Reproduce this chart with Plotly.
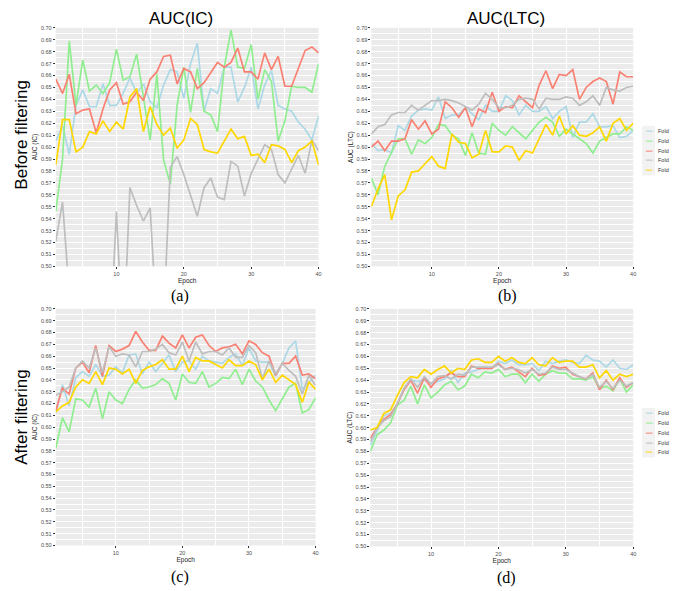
import plotly.graph_objects as go

# page body has an 8px margin: figure is placed at (8, 8) in the window
OFF = 8
W, H = 678 - OFF, 591 - OFF
epochs = list(range(1, 41))
fold_names = ["Fold 1", "Fold 2", "Fold 3", "Fold 4", "Fold 5"]
fold_colors = ["#ADD8E6", "#90EE90", "#FA8072", "#BEBEBE", "#FFD700"]

# (a) Before filtering, AUC(IC)
a_f1 = [0.605, 0.618, 0.594, 0.635, 0.648, 0.634, 0.634, 0.653, 0.635, 0.635, 0.645, 0.658, 0.645, 0.653, 0.638, 0.633, 0.652, 0.665, 0.663, 0.641,
        0.670, 0.687, 0.630, 0.649, 0.645, 0.667, 0.667, 0.638, 0.650, 0.667, 0.632, 0.652, 0.664, 0.635, 0.632, 0.630, 0.621, 0.615, 0.606, 0.626]
a_f2 = [0.546, 0.590, 0.689, 0.635, 0.673, 0.647, 0.652, 0.645, 0.654, 0.682, 0.656, 0.659, 0.678, 0.643, 0.606, 0.661, 0.589, 0.569, 0.635, 0.667,
        0.629, 0.666, 0.630, 0.627, 0.613, 0.667, 0.698, 0.667, 0.666, 0.686, 0.640, 0.665, 0.655, 0.605, 0.622, 0.651, 0.650, 0.650, 0.646, 0.670]
a_f3 = [0.657, 0.645, 0.661, 0.628, 0.631, 0.632, 0.612, 0.632, 0.648, 0.654, 0.636, 0.638, 0.646, 0.639, 0.657, 0.663, 0.676, 0.677, 0.653, 0.666,
        0.663, 0.649, 0.654, 0.663, 0.671, 0.667, 0.671, 0.683, 0.663, 0.663, 0.657, 0.679, 0.665, 0.676, 0.651, 0.651, 0.666, 0.681, 0.684, 0.679]
a_f4 = [0.521, 0.554, 0.477, 0.460, 0.450, 0.440, 0.450, 0.440, 0.430, 0.546, 0.430, 0.566, 0.551, 0.538, 0.549, 0.450, 0.455, 0.583, 0.592, 0.577,
        0.560, 0.542, 0.566, 0.574, 0.558, 0.556, 0.588, 0.584, 0.559, 0.578, 0.590, 0.602, 0.598, 0.577, 0.570, 0.581, 0.593, 0.578, 0.606, 0.597]
a_f5 = [0.585, 0.623, 0.623, 0.596, 0.600, 0.613, 0.611, 0.622, 0.613, 0.621, 0.615, 0.642, 0.649, 0.613, 0.634, 0.619, 0.610, 0.616, 0.599, 0.606,
        0.624, 0.619, 0.598, 0.596, 0.595, 0.605, 0.615, 0.607, 0.609, 0.593, 0.594, 0.587, 0.602, 0.601, 0.598, 0.587, 0.597, 0.600, 0.605, 0.585]

# (b) Before filtering, AUC(LTC)
b_f1 = [0.603, 0.597, 0.598, 0.595, 0.618, 0.614, 0.626, 0.631, 0.632, 0.631, 0.642, 0.624, 0.627, 0.627, 0.633, 0.628, 0.623, 0.635, 0.630, 0.630,
        0.643, 0.639, 0.627, 0.635, 0.630, 0.630, 0.634, 0.624, 0.630, 0.634, 0.608, 0.621, 0.621, 0.628, 0.617, 0.617, 0.618, 0.608, 0.609, 0.614]
b_f2 = [0.574, 0.560, 0.584, 0.595, 0.607, 0.607, 0.594, 0.606, 0.603, 0.608, 0.619, 0.618, 0.610, 0.607, 0.593, 0.612, 0.595, 0.594, 0.620, 0.614,
        0.610, 0.617, 0.612, 0.607, 0.614, 0.621, 0.625, 0.621, 0.609, 0.615, 0.611, 0.607, 0.603, 0.595, 0.605, 0.608, 0.611, 0.611, 0.617, 0.614]
b_f3 = [0.600, 0.605, 0.597, 0.605, 0.605, 0.607, 0.623, 0.615, 0.622, 0.611, 0.615, 0.638, 0.633, 0.625, 0.633, 0.617, 0.632, 0.629, 0.646, 0.630,
        0.634, 0.633, 0.643, 0.638, 0.633, 0.652, 0.664, 0.649, 0.661, 0.660, 0.665, 0.640, 0.650, 0.655, 0.658, 0.655, 0.636, 0.663, 0.659, 0.659]
b_f4 = [0.611, 0.617, 0.619, 0.627, 0.629, 0.629, 0.635, 0.631, 0.635, 0.639, 0.639, 0.640, 0.639, 0.637, 0.634, 0.631, 0.636, 0.645, 0.640, 0.633,
        0.633, 0.635, 0.640, 0.641, 0.640, 0.632, 0.641, 0.640, 0.640, 0.642, 0.641, 0.635, 0.638, 0.643, 0.635, 0.650, 0.648, 0.647, 0.650, 0.651]
b_f5 = [0.550, 0.565, 0.577, 0.539, 0.559, 0.564, 0.579, 0.580, 0.586, 0.592, 0.584, 0.582, 0.611, 0.604, 0.603, 0.591, 0.594, 0.614, 0.596, 0.596,
        0.601, 0.600, 0.589, 0.597, 0.595, 0.607, 0.619, 0.610, 0.626, 0.611, 0.618, 0.610, 0.609, 0.612, 0.617, 0.605, 0.620, 0.624, 0.614, 0.620]

# (c) After filtering, AUC(IC)
c_f1 = [0.612, 0.636, 0.618, 0.642, 0.647, 0.643, 0.653, 0.643, 0.644, 0.651, 0.646, 0.661, 0.662, 0.645, 0.655, 0.647, 0.654, 0.661, 0.647, 0.655,
        0.656, 0.649, 0.660, 0.656, 0.655, 0.654, 0.659, 0.662, 0.652, 0.667, 0.656, 0.655, 0.655, 0.643, 0.654, 0.667, 0.673, 0.632, 0.638, 0.644]
c_f2 = [0.582, 0.608, 0.596, 0.624, 0.623, 0.617, 0.633, 0.607, 0.630, 0.623, 0.620, 0.632, 0.640, 0.633, 0.634, 0.636, 0.641, 0.637, 0.623, 0.645,
        0.638, 0.637, 0.647, 0.634, 0.637, 0.642, 0.641, 0.649, 0.636, 0.649, 0.639, 0.634, 0.623, 0.614, 0.624, 0.634, 0.637, 0.612, 0.615, 0.625]
c_f3 = [0.614, 0.633, 0.628, 0.650, 0.655, 0.646, 0.669, 0.643, 0.669, 0.664, 0.666, 0.669, 0.681, 0.672, 0.665, 0.665, 0.677, 0.671, 0.667, 0.678,
        0.667, 0.676, 0.678, 0.669, 0.664, 0.667, 0.668, 0.670, 0.662, 0.673, 0.670, 0.663, 0.660, 0.644, 0.654, 0.654, 0.660, 0.644, 0.645, 0.641]
c_f4 = [0.627, 0.630, 0.634, 0.650, 0.656, 0.650, 0.667, 0.646, 0.668, 0.660, 0.662, 0.661, 0.651, 0.664, 0.664, 0.666, 0.670, 0.663, 0.661, 0.672,
        0.656, 0.672, 0.662, 0.664, 0.664, 0.661, 0.667, 0.659, 0.659, 0.669, 0.663, 0.641, 0.656, 0.645, 0.654, 0.648, 0.643, 0.628, 0.644, 0.635]
c_f5 = [0.613, 0.618, 0.621, 0.634, 0.640, 0.637, 0.647, 0.636, 0.650, 0.649, 0.645, 0.649, 0.637, 0.648, 0.651, 0.653, 0.657, 0.649, 0.649, 0.660,
        0.647, 0.659, 0.656, 0.656, 0.653, 0.650, 0.657, 0.652, 0.652, 0.656, 0.653, 0.640, 0.649, 0.638, 0.644, 0.640, 0.636, 0.621, 0.638, 0.632]

# (d) After filtering, AUC(LTC)
d_f1 = [0.585, 0.597, 0.610, 0.612, 0.620, 0.633, 0.640, 0.639, 0.640, 0.637, 0.639, 0.641, 0.648, 0.638, 0.646, 0.647, 0.649, 0.651, 0.650, 0.656,
        0.654, 0.657, 0.653, 0.653, 0.654, 0.648, 0.656, 0.654, 0.656, 0.657, 0.655, 0.654, 0.661, 0.657, 0.656, 0.651, 0.657, 0.650, 0.649, 0.653]
d_f2 = [0.580, 0.594, 0.598, 0.604, 0.619, 0.623, 0.635, 0.620, 0.636, 0.625, 0.630, 0.636, 0.639, 0.632, 0.635, 0.645, 0.642, 0.647, 0.646, 0.649,
        0.643, 0.645, 0.645, 0.638, 0.645, 0.639, 0.645, 0.648, 0.646, 0.646, 0.641, 0.641, 0.640, 0.643, 0.633, 0.635, 0.631, 0.641, 0.630, 0.636]
d_f3 = [0.591, 0.600, 0.607, 0.611, 0.620, 0.632, 0.640, 0.629, 0.642, 0.634, 0.641, 0.643, 0.646, 0.643, 0.643, 0.652, 0.650, 0.650, 0.650, 0.654,
        0.649, 0.651, 0.647, 0.643, 0.650, 0.644, 0.645, 0.652, 0.650, 0.651, 0.645, 0.643, 0.641, 0.646, 0.632, 0.640, 0.632, 0.642, 0.634, 0.638]
d_f4 = [0.588, 0.600, 0.606, 0.609, 0.620, 0.633, 0.641, 0.634, 0.643, 0.637, 0.643, 0.644, 0.641, 0.645, 0.644, 0.651, 0.651, 0.651, 0.651, 0.653,
        0.649, 0.650, 0.649, 0.646, 0.649, 0.645, 0.646, 0.651, 0.649, 0.649, 0.646, 0.643, 0.641, 0.645, 0.634, 0.639, 0.633, 0.640, 0.635, 0.638]
d_f5 = [0.598, 0.600, 0.612, 0.615, 0.627, 0.638, 0.643, 0.642, 0.649, 0.645, 0.649, 0.652, 0.646, 0.650, 0.649, 0.657, 0.658, 0.655, 0.655, 0.660,
        0.656, 0.659, 0.655, 0.654, 0.659, 0.653, 0.652, 0.659, 0.655, 0.656, 0.656, 0.651, 0.651, 0.653, 0.642, 0.648, 0.640, 0.645, 0.643, 0.645]

panels = [
    ("x", "y", [a_f1, a_f2, a_f3, a_f4, a_f5]),
    ("x2", "y2", [b_f1, b_f2, b_f3, b_f4, b_f5]),
    ("x3", "y3", [c_f1, c_f2, c_f3, c_f4, c_f5]),
    ("x4", "y4", [d_f1, d_f2, d_f3, d_f4, d_f5]),
]

fig = go.Figure()
for xa, ya, series in panels:
    for name, color, vals in zip(fold_names, fold_colors, series):
        fig.add_trace(go.Scatter(x=epochs, y=vals, mode="lines", name=name,
                                 line=dict(color=color, width=1.7),
                                 xaxis=xa, yaxis=ya, showlegend=False))

SANS = "Liberation Sans, Arial, sans-serif"
SERIF = "Liberation Serif, Times New Roman, serif"


def px_x(p):
    return (p - OFF) / W


def px_y(p):
    return 1 - (p - OFF) / H


def xaxis_style(domain, anchor):
    return dict(domain=domain, anchor=anchor, range=[1, 40],
                tickvals=[10, 20, 30, 40], ticks="outside", ticklen=2,
                tickcolor="#333333", tickwidth=0.6,
                tickfont=dict(family=SANS, size=5.5, color="#4D4D4D"),
                showgrid=True, gridcolor="white", gridwidth=0.9,
                minor=dict(tickvals=[5, 15, 25, 35], showgrid=True,
                           gridcolor="white", gridwidth=0.45),
                zeroline=False, showline=False,
                title=dict(text="Epoch", font=dict(family=SANS, size=6.5, color="#222222"),
                           standoff=1))


def yaxis_style(domain, anchor, title):
    return dict(domain=domain, anchor=anchor, range=[0.5, 0.7],
                tick0=0.5, dtick=0.01, tickformat=".2f", ticks="outside",
                ticklen=2, tickcolor="#333333", tickwidth=0.6,
                tickfont=dict(family=SANS, size=5.5, color="#4D4D4D"),
                showgrid=True, gridcolor="white", gridwidth=0.9,
                minor=dict(dtick=0.005, tick0=0.5, showgrid=True,
                           gridcolor="white", gridwidth=0.45),
                zeroline=False, showline=False,
                title=dict(text=title, font=dict(family=SANS, size=6.5, color="#222222"),
                           standoff=2))


ax_a = [px_x(56), px_x(320)]
ax_b = [px_x(373), px_x(636)]
ax_c = [px_x(56), px_x(317)]
ax_d = [px_x(372), px_x(636)]
ay_top = [px_y(266), px_y(25)]
ay_c = [px_y(548), px_y(309)]
ay_d = [px_y(549), px_y(309)]

fig.update_layout(
    width=W, height=H,
    margin=dict(l=0, r=0, t=0, b=0),
    paper_bgcolor="white", plot_bgcolor="#EBEBEB",
    showlegend=False,
    xaxis=xaxis_style(ax_a, "y"), yaxis=yaxis_style(ay_top, "x", "AUC (IC)"),
    xaxis2=xaxis_style(ax_b, "y2"), yaxis2=yaxis_style(ay_top, "x2", "AUC (LTC)"),
    xaxis3=xaxis_style(ax_c, "y3"), yaxis3=yaxis_style(ay_c, "x3", "AUC (IC)"),
    xaxis4=xaxis_style(ax_d, "y4"), yaxis4=yaxis_style(ay_d, "x4", "AUC (LTC)"),
)


def note(text, x, y, size, family=SANS, color="black", angle=0, xanchor="center"):
    return dict(text=text, x=px_x(x), y=px_y(y), xref="paper", yref="paper",
                xanchor=xanchor, yanchor="middle", textangle=angle, showarrow=False,
                font=dict(family=family, size=size, color=color))


ann = []
shapes = []
ann.append(note("AUC(IC)", 182, 16, 17))
ann.append(note("AUC(LTC)", 508, 16, 17))
ann.append(note("Before filtering", 22, 133, 17, angle=-90))
ann.append(note("After filtering", 22, 418, 17, angle=-90))
for txt, cx, cy in [("(a)", 181, 296), ("(b)", 510, 296), ("(c)", 181, 580), ("(d)", 509, 581)]:
    ann.append(note(txt, cx, cy, 16, family=SERIF))
# legends (one per right-hand panel), with ggplot-like grey key boxes
for ys in ([129, 139, 149, 159, 169], [414, 424, 434, 444, 454]):
    shapes.append(dict(type="rect", xref="paper", yref="paper", layer="below",
                       x0=px_x(645), x1=px_x(658), y0=px_y(ys[-1] + 5), y1=px_y(ys[0] - 5),
                       fillcolor="#F2F2F2", line=dict(width=0)))
    for name, color, yy in zip(fold_names, fold_colors, ys):
        ann.append(note("━━", 651.5, yy, 5.5, family="DejaVu Sans Mono", color=color))
        ann.append(note(name, 659, yy, 5.5, color="#333333", xanchor="left"))
fig.update_layout(annotations=ann, shapes=shapes)

fig.write_html("out.html")
